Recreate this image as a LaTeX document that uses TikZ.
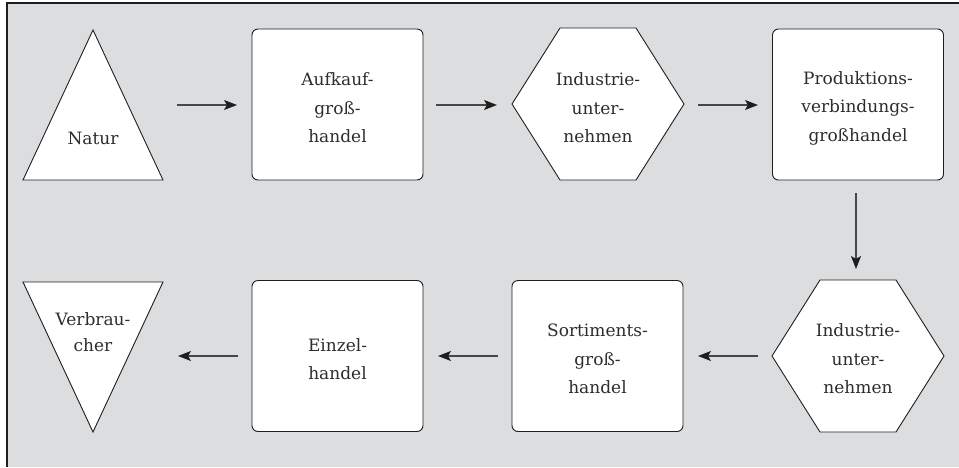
\documentclass[tikz,border=0pt]{standalone}
\usepackage{fontspec}
\setmainfont{DejaVu Serif}
\usetikzlibrary{arrows.meta}
\definecolor{bg}{RGB}{220,221,223}
\definecolor{ln}{RGB}{30,30,30}
\definecolor{tx}{RGB}{45,45,45}
\definecolor{shaft}{RGB}{70,70,70}
\begin{document}
\begin{tikzpicture}[x=1pt,y=-1pt,
  shapeline/.style={draw=ln, line width=0.9pt, fill=white, line join=miter},
  box/.style={draw=ln, line width=0.9pt, fill=white, rounded corners=6pt,
    minimum width=171pt, minimum height=151pt, inner sep=0pt},
  lbl/.style={text=tx, font=\fontsize{17}{28.5}\selectfont, align=center, inner sep=0pt},
  arr/.style={draw=shaft, line width=1.1pt,
    -{Stealth[length=13pt,width=10pt,inset=3pt,color=ln]}}]
\useasboundingbox (0,0) rectangle (959,467);
% frame
\fill[bg] (7,3) rectangle (959,467);
\draw[ln, line width=1.3pt] (7,467) -- (7,3) -- (959,3);

% top row
\path[shapeline] (93,30) -- (163,180) -- (23,180) -- cycle;
\node[lbl] (natur) at (93,138) {Natur};

\node[box] (b1) at (337.5,104.5) {};
\node[lbl] (t1) at (337.5,108) {Aufkauf-\\groß-\\handel};

\path[shapeline] (512,104) -- (560,28) -- (636,28) -- (684,104) -- (636,180) -- (560,180) -- cycle;
\node[lbl] (h1) at (598,108) {Industrie-\\unter-\\nehmen};

\node[box] (b2) at (858,104.5) {};
\node[lbl] (t2) at (858,108) {Produktions-\\verbindungs-\\großhandel};

% bottom row
\path[shapeline] (772,356) -- (820,280) -- (896,280) -- (944,356) -- (896,432) -- (820,432) -- cycle;
\node[lbl] (h2) at (858,359) {Industrie-\\unter-\\nehmen};

\node[box] (b3) at (597.5,356) {};
\node[lbl] (t3) at (597.5,359) {Sortiments-\\groß-\\handel};

\node[box] (b4) at (337.5,356) {};
\node[lbl] (t4) at (337.5,359) {Einzel-\\handel};

\path[shapeline] (23,282) -- (163,282) -- (93,432) -- cycle;
\node[lbl, font=\fontsize{17}{26.5}\selectfont] (verb) at (93,332) {Verbrau-\\cher};

% connector end points
\coordinate (a1s) at (177,105);  \coordinate (a1e) at (237,105);
\coordinate (a2s) at (436,105);  \coordinate (a2e) at (497,105);
\coordinate (a3s) at (698,105);  \coordinate (a3e) at (758,105);
\coordinate (a4s) at (856,193);  \coordinate (a4e) at (856,269);
\coordinate (a5s) at (758,356);  \coordinate (a5e) at (698,356);
\coordinate (a6s) at (498,356);  \coordinate (a6e) at (438,356);
\coordinate (a7s) at (238,356);  \coordinate (a7e) at (178,356);

\draw[arr] (a1s) -- (a1e);
\draw[arr] (a2s) -- (a2e);
\draw[arr] (a3s) -- (a3e);
\draw[arr] (a4s) -- (a4e);
\draw[arr] (a5s) -- (a5e);
\draw[arr] (a6s) -- (a6e);
\draw[arr] (a7s) -- (a7e);
\end{tikzpicture}
\end{document}
